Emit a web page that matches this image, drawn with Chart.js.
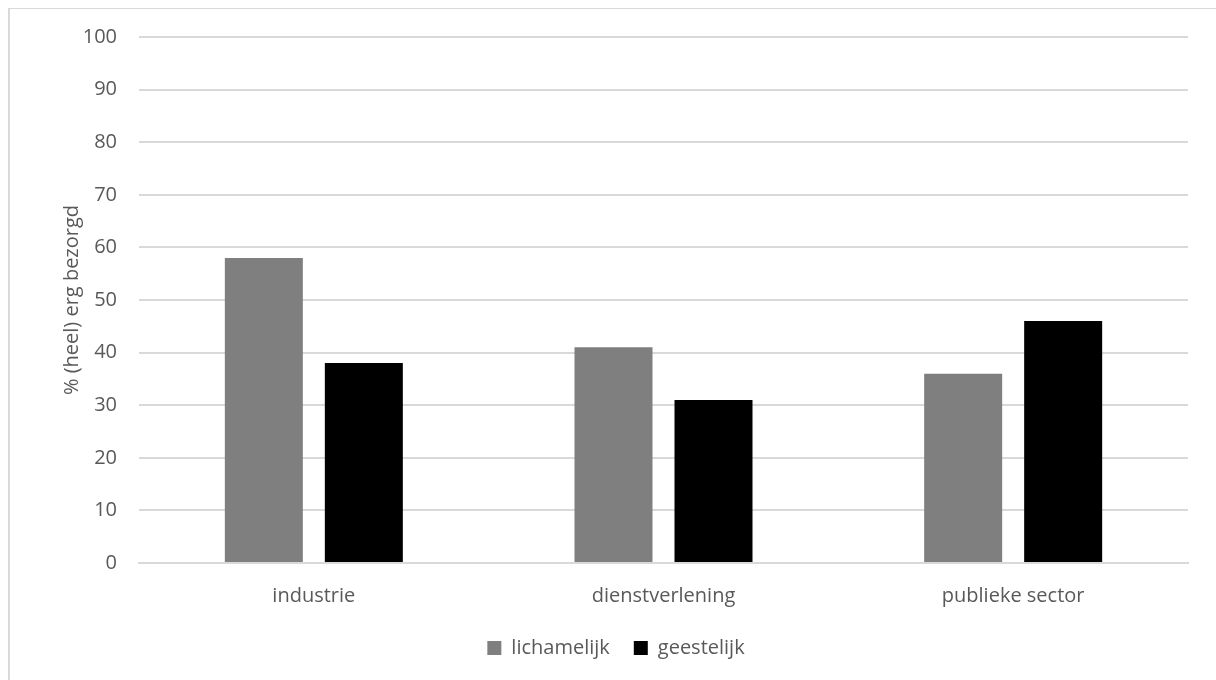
<!DOCTYPE html>
<html>
<head>
<meta charset="utf-8">
<script src="https://cdn.jsdelivr.net/npm/chart.js@4/dist/chart.umd.min.js"></script>
<style>
  html, body { margin: 0; padding: 0; background: #fff; }
  #frame { position: absolute; left: 8px; top: 8px; width: 1300px; height: 800px;
           border-top: 1px solid #d9d9d9; border-left: 2px solid #d9d9d9; }
  #wrap { position: absolute; left: 0; top: 0; width: 1216px; height: 680px; }
</style>
</head>
<body>
<div id="frame"></div>
<div id="wrap"><canvas id="myChart"></canvas></div>
<script>
// data
const categories = ['industrie', 'dienstverlening', 'publieke sector'];
const lichamelijk = [58, 41, 36];
const geestelijk = [38, 31, 46];
const yTicks = [0, 10, 20, 30, 40, 50, 60, 70, 80, 90, 100];

const textColor = '#595959';
const gridColor = '#d9d9d9';
const fontFamily = '"Open Sans", Lato, sans-serif';

const ctx = document.getElementById('myChart').getContext('2d');

new Chart(ctx, {
  type: 'bar',
  data: {
    labels: categories,
    datasets: [
      {
        label: 'lichamelijk',
        data: lichamelijk,
        backgroundColor: '#7f7f7f',
        categoryPercentage: 0.572,
        barPercentage: 0.78
      },
      {
        label: 'geestelijk',
        data: geestelijk,
        backgroundColor: '#000000',
        categoryPercentage: 0.572,
        barPercentage: 0.78
      }
    ]
  },
  options: {
    responsive: true,
    maintainAspectRatio: false,
    animation: false,
    layout: { padding: { top: 37, right: 28, left: 44, bottom: 12 } },
    plugins: {
      tooltip: { enabled: false },
      legend: {
        position: 'bottom',
        labels: {
          color: textColor,
          font: { family: fontFamily, size: 20 },
          boxWidth: 14,
          boxHeight: 14,
          padding: 24
        }
      }
    },
    scales: {
      x: {
        grid: { display: false, drawTicks: false },
        border: { color: gridColor, width: 2 },
        ticks: { color: textColor, font: { family: fontFamily, size: 20 }, padding: 21 },
        afterFit: (scale) => { scale.height = 51; }
      },
      y: {
        min: 0,
        max: 100,
        afterBuildTicks: (scale) => { scale.ticks = yTicks.map(v => ({ value: v })); },
        grid: { color: gridColor, lineWidth: 2, drawTicks: false },
        border: { display: false },
        ticks: { color: textColor, font: { family: fontFamily, size: 20 }, padding: 22 },
        title: {
          display: true,
          text: '% (heel) erg bezorgd',
          color: textColor,
          font: { family: fontFamily, size: 20 },
          padding: { top: 16 }
        },
        afterFit: (scale) => { scale.width = 95; }
      }
    }
  }
});
</script>
</body>
</html>
